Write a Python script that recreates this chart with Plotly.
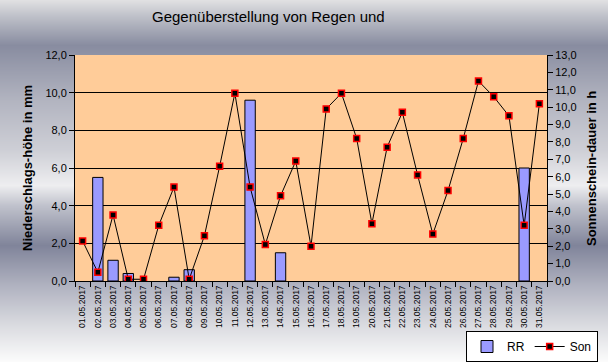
import base64, struct, zlib
import plotly.graph_objects as go

# ---- data ----
dates = [f"{d:02d}.05.2017" for d in range(1, 32)]
rr = [None, 5.5, 1.1, 0.4, None, None, 0.2, 0.6, None, None, None, 9.6, None, 1.5, None, None,
      None, None, None, None, None, None, None, None, None, None, None, None, None, 6.0, None]
son = [2.3, 0.5, 3.8, 0.1, 0.1, 3.2, 5.4, 0.1, 2.6, 6.6, 10.8, 5.4, 2.1, 4.9, 6.9, 2.0,
       9.9, 10.8, 8.2, 3.3, 7.7, 9.7, 6.1, 2.7, 5.2, 8.2, 11.5, 10.6, 9.5, 3.2, 10.2]
title_text = "Gegenüberstellung von Regen und"
left_title = "Niederschlags-höhe in mm"
right_title = "Sonnenschein-dauer in h"

W, H = 608, 362
L, R, T, B = 75, 61, 55, 81
PW, PH = W - L - R, H - T - B

# ---- background gradient image ----
stops = [(0, (224, 224, 226)), (15, (192, 194, 202)), (45, (136, 140, 160)),
         (100, (178, 180, 192)), (150, (206, 207, 214)), (185, (238, 238, 240)),
         (205, (192, 194, 204)), (245, (128, 132, 154)), (285, (176, 178, 192)),
         (325, (218, 219, 224)), (362, (252, 252, 252))]
rows = b""
for y in range(H):
    for i in range(len(stops) - 1):
        y0, c0 = stops[i]
        y1, c1 = stops[i + 1]
        if y0 <= y <= y1:
            t = (y - y0) / (y1 - y0)
            c = tuple(int(round(c0[k] + (c1[k] - c0[k]) * t)) for k in range(3))
            break
    rows += b"\x00" + bytes(c) * 4

def chunk(tag, data):
    return struct.pack(">I", len(data)) + tag + data + struct.pack(">I", zlib.crc32(tag + data) & 0xffffffff)

png = (b"\x89PNG\r\n\x1a\n" + chunk(b"IHDR", struct.pack(">IIBBBBB", 4, H, 8, 2, 0, 0, 0))
       + chunk(b"IDAT", zlib.compress(rows)) + chunk(b"IEND", b""))
img_src = "data:image/png;base64," + base64.b64encode(png).decode()

fig = go.Figure()
fig.add_trace(go.Bar(
    x=dates, y=rr, name="RR",
    marker=dict(color="white", line=dict(color="black", width=1),
                pattern=dict(shape=".", fgcolor="#2020ff", bgcolor="white", size=2, solidity=0.85)),
))
fig.add_trace(go.Scatter(
    x=dates, y=son, name="Son", yaxis="y2", mode="lines+markers",
    line=dict(color="black", width=1),
    marker=dict(symbol="square", size=6, color="black", line=dict(color="#ff0000", width=1.5)),
))

fig.update_layout(
    width=W, height=H,
    margin=dict(l=L, r=R, t=T, b=B, autoexpand=False),
    paper_bgcolor="rgba(0,0,0,0)",
    plot_bgcolor="rgba(0,0,0,0)",
    separators=",.",
    bargap=0.32,
    font=dict(family="Liberation Sans, Arial, sans-serif", color="black"),
    showlegend=True,
    legend=dict(orientation="h", x=(598 - L) / PW, xanchor="right", y=(T + PH - 331) / PH, yanchor="top",
                bgcolor="white", bordercolor="black", borderwidth=1,
                font=dict(size=12, family="Liberation Sans, Arial, sans-serif"),
                itemwidth=30, tracegroupgap=0, valign="middle"),
    xaxis=dict(type="category", tickangle=-90, tickson="boundaries", ticks="outside", ticklen=5,
               tickcolor="black", showline=True, linecolor="black", linewidth=1, showgrid=False,
               tickfont=dict(size=8.5, family="Liberation Sans Narrow, Arial Narrow, Liberation Sans, Arial"),
               range=[-0.5, 30.5], automargin=False),
    yaxis=dict(range=[0, 12], dtick=2, tickformat=".1f", showgrid=True, gridcolor="black", gridwidth=1,
               showline=True, linecolor="black", ticks="outside", ticklen=5, tickcolor="black",
               tickfont=dict(size=11), zeroline=False, automargin=False),
    yaxis2=dict(range=[0, 13], dtick=1, tickformat=".1f", overlaying="y", side="right", showgrid=False,
                showline=True, linecolor="black", ticks="outside", ticklen=5, tickcolor="black",
                tickfont=dict(size=11), zeroline=False, automargin=False),
    images=[dict(source=img_src, xref="paper", yref="paper", x=-L / PW, y=1 + T / PH,
                 sizex=W / PW, sizey=H / PH, sizing="stretch", layer="below", xanchor="left", yanchor="top")],
    shapes=[dict(type="rect", xref="paper", yref="paper", x0=0, x1=1, y0=0, y1=1,
                 fillcolor="#ffcc99", line=dict(width=0), layer="below")],
    annotations=[
        dict(text=title_text, xref="paper", yref="paper", x=(268 - L) / PW, y=1 + (T - 17) / PH,
             showarrow=False, font=dict(size=15), xanchor="center", yanchor="middle"),
        dict(text=f"<b>{left_title}</b>", xref="paper", yref="paper", x=(27 - L) / PW, y=(T + PH - 168) / PH,
             textangle=-90, showarrow=False, font=dict(size=13), xanchor="center", yanchor="middle"),
        dict(text=f"<b>{right_title}</b>", xref="paper", yref="paper", x=(591 - L) / PW, y=(T + PH - 169) / PH,
             textangle=-90, showarrow=False, font=dict(size=13), xanchor="center", yanchor="middle"),
    ],
)

fig.write_html("out.html", config={"displayModeBar": False},
               post_script="document.body.style.margin='0';document.body.style.overflow='hidden';")
